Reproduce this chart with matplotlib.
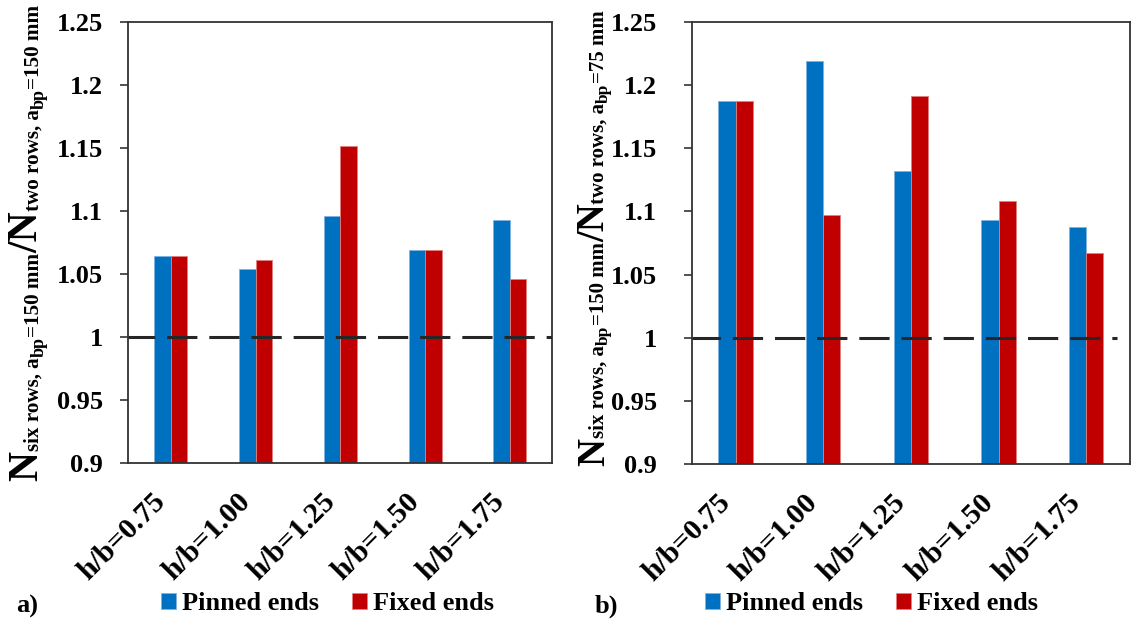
import matplotlib
matplotlib.use("Agg")
import matplotlib.pyplot as plt
import matplotlib.transforms as mtransforms
import numpy as np

# ---- data ----
categories = ["h/b=0.75", "h/b=1.00", "h/b=1.25", "h/b=1.50", "h/b=1.75"]
pinned_a = [1.064, 1.054, 1.096, 1.069, 1.093]
fixed_a = [1.064, 1.061, 1.151, 1.069, 1.046]
pinned_b = [1.187, 1.219, 1.132, 1.093, 1.088]
fixed_b = [1.187, 1.097, 1.191, 1.108, 1.067]
ytick_values = [0.9, 0.95, 1.0, 1.05, 1.1, 1.15, 1.2, 1.25]
ytick_labels = ["0.9", "0.95", "1", "1.05", "1.1", "1.15", "1.2", "1.25"]
series_names = ["Pinned ends", "Fixed ends"]
reference_ratio = 1.0

label_a = [("N", "main"), ("six rows, a", "sub"), ("bp", "subsub"), ("=150 mm", "sub"),
           ("/N", "main"), ("two rows, a", "sub"), ("bp", "subsub"), ("=150 mm", "sub")]
label_b = [("N", "main"), ("six rows, a", "sub"), ("bp", "subsub"), ("=150 mm", "sub"),
           ("/N", "main"), ("two rows, a", "sub"), ("bp", "subsub"), ("=75 mm", "sub")]

BLUE = "#0070C0"
RED = "#C00000"
DARK = "#333333"
FONT = "Liberation Serif"

plt.rcParams["font.family"] = FONT
plt.rcParams["font.weight"] = "bold"

W, H = 1132, 622
fig = plt.figure(figsize=(W / 100, H / 100), dpi=100)

ax_a = fig.add_axes([128.3 / W, 1 - 462.7 / H, (552.3 - 128.3) / W, (462.7 - 21.7) / H])
ax_b = fig.add_axes([691.7 / W, 1 - 464.3 / H, (1130 - 691.7) / W, (464.3 - 21.7) / H])

width = 0.195
x = np.arange(len(categories))


def draw_panel(ax, pinned, fixed, ypad, line_xmax, dash_offset):
    ax.bar(x - width / 2, np.array(pinned) - 0.9, width, bottom=0.9, color=BLUE,
           edgecolor="#7fb3dd", linewidth=0.6, label=series_names[0], zorder=2)
    ax.bar(x + width / 2, np.array(fixed) - 0.9, width, bottom=0.9, color=RED,
           edgecolor="#e08080", linewidth=0.6, label=series_names[1], zorder=2)
    ax.axhline(reference_ratio, xmin=0, xmax=line_xmax, color="#262626", lw=2.2,
               linestyle=(dash_offset, (9.9, 3.9)), zorder=3)
    ax.set_xlim(-0.5, len(categories) - 0.5)
    ax.set_ylim(0.9, 1.25)
    ax.set_yticks(ytick_values)
    ax.set_yticklabels(ytick_labels, fontsize=19, fontweight="bold")
    ax.set_xticks(x)
    ax.set_xticklabels(categories, fontsize=21.5, fontweight="bold", rotation=45,
                       ha="right")
    shift = mtransforms.ScaledTranslation(0.05, 0, fig.dpi_scale_trans)
    for lbl in ax.get_xticklabels():
        lbl.set_transform(lbl.get_transform() + shift)
    ax.tick_params(axis="x", length=0, pad=18)
    ax.tick_params(axis="y", direction="out", length=6, width=1.2, color=DARK, pad=ypad)
    for sp in ax.spines.values():
        sp.set_color(DARK)
        sp.set_linewidth(1.3)


draw_panel(ax_a, pinned_a, fixed_a, 12, 1.0, 1.15)
draw_panel(ax_b, pinned_b, fixed_b, 19, 0.97, 0.6)

# ---- axis titles assembled from pieces of different sizes ----
renderer = fig.canvas.get_renderer()


def vertical_label(pieces, baseline_x, center_y, sizes, drops):
    texts = []
    lengths = []
    for s, kind in pieces:
        t = fig.text(0, 0, s, fontsize=sizes[kind], fontweight="bold", rotation=90,
                     rotation_mode="anchor", ha="left", va="baseline",
                     transform=None)
        texts.append(t)
        lengths.append(t.get_window_extent(renderer).height)
    total = sum(lengths)
    y = (H - center_y) - total / 2
    for t, (s, kind), ln in zip(texts, pieces, lengths):
        t.set_position((baseline_x + drops[kind], y))
        y += ln


vertical_label(label_a, 37, 243,
               {"main": 30, "sub": 15.2, "subsub": 13},
               {"main": 0, "sub": 2, "subsub": 7})
vertical_label(label_b, 604, 238,
               {"main": 28, "sub": 15, "subsub": 12.5},
               {"main": 0, "sub": 0, "subsub": 4})

# ---- legends and panel tags ----
for ax, left, tag, tag_x in [(ax_a, 161, "a)", 16), (ax_b, 705, "b)", 595)]:
    handles, labels = ax.get_legend_handles_labels()
    fig.legend(handles, labels, loc="center left",
               bbox_to_anchor=(left / W, 1 - 604 / H), ncol=2, frameon=False,
               prop={"weight": "bold", "size": 19, "family": FONT},
               handlelength=0.55, handleheight=0.55, handletextpad=0.25,
               columnspacing=1.25, borderpad=0, borderaxespad=0)
    fig.text(tag_x / W, 1 - 613 / H, tag, fontsize=19, fontweight="bold",
             ha="left", va="baseline")

fig.savefig("out.png", dpi=100)
